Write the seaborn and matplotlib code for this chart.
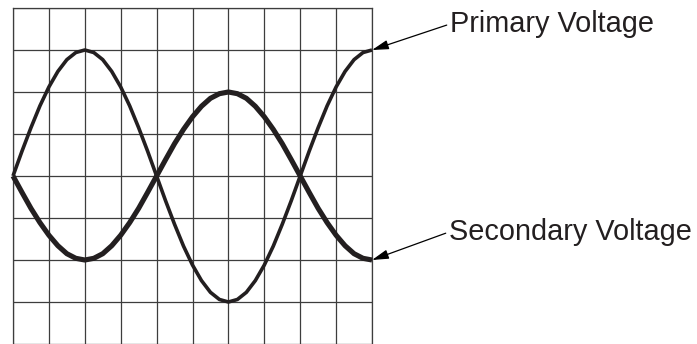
import numpy as np
import pandas as pd
import seaborn as sns
import matplotlib.pyplot as plt

"""
TRANSFORMER SCOPE TRACE: primary vs secondary voltage
"""

# horizontal position of each reading, in scope divisions
divisions = np.arange(0, 10.01, 0.25)

# voltage readings, in vertical divisions
primary = [0, 0.59, 1.15, 1.67, 2.12, 2.49, 2.77, 2.94, 3.0,
           2.94, 2.77, 2.49, 2.12, 1.67, 1.15, 0.59, 0,
           -0.59, -1.15, -1.67, -2.12, -2.49, -2.77, -2.94, -3.0,
           -2.94, -2.77, -2.49, -2.12, -1.67, -1.15, -0.59, 0,
           0.59, 1.15, 1.67, 2.12, 2.49, 2.77, 2.94, 3.0]
secondary = [0, -0.39, -0.77, -1.11, -1.41, -1.66, -1.85, -1.96, -2.0,
             -1.96, -1.85, -1.66, -1.41, -1.11, -0.77, -0.39, 0,
             0.39, 0.77, 1.11, 1.41, 1.66, 1.85, 1.96, 2.0,
             1.96, 1.85, 1.66, 1.41, 1.11, 0.77, 0.39, 0,
             -0.39, -0.77, -1.11, -1.41, -1.66, -1.85, -1.96, -2.0]

labels = ["Primary Voltage", "Secondary Voltage"]

df = pd.DataFrame({"div": divisions, "primary": primary, "secondary": secondary})

sns.set_style("white")
plt.rcParams['font.family'] = ['Liberation Sans', 'DejaVu Sans']

fig = plt.figure(figsize=(6.97, 3.44), dpi=100)
ax = fig.add_axes([13 / 697, 0, 359 / 697, 336 / 344])

trace = "#231f20"
sns.lineplot(data=df, x="div", y="primary", ax=ax, color=trace, linewidth=2.6,
             solid_capstyle="butt", clip_on=False, zorder=3)
sns.lineplot(data=df, x="div", y="secondary", ax=ax, color=trace, linewidth=3.7,
             solid_capstyle="butt", clip_on=False, zorder=3)

ax.set_xlim(0, 10)
ax.set_ylim(-4, 4)
ax.set_xticks(np.arange(0, 11, 1))
ax.set_yticks(np.arange(-4, 5, 1))
ax.grid(True, color="#3d3d3d", linewidth=0.9)
ax.tick_params(left=False, bottom=False, labelleft=False, labelbottom=False)
ax.set_xlabel("")
ax.set_ylabel("")
for side, sp in ax.spines.items():
    sp.set_color("#3d3d3d")
    sp.set_linewidth(0.9)
ax.spines["bottom"].set_visible(False)

arrow = dict(arrowstyle="-|>,head_length=1.0,head_width=0.28", color="black",
             lw=0.9, shrinkA=0, shrinkB=0, relpos=(0, 0.5), mutation_scale=10)
ax.annotate(labels[0], xy=(10, primary[-1]), xytext=(450, 344 - 32),
            textcoords="figure pixels", fontsize=20.8, va="baseline", ha="left",
            color=trace, arrowprops=arrow, annotation_clip=False)
ax.annotate(labels[1], xy=(10, secondary[-1]), xytext=(449, 344 - 240),
            textcoords="figure pixels", fontsize=20.8, va="baseline", ha="left",
            color=trace, arrowprops=arrow, annotation_clip=False)

plt.savefig("out.png", dpi=100)
